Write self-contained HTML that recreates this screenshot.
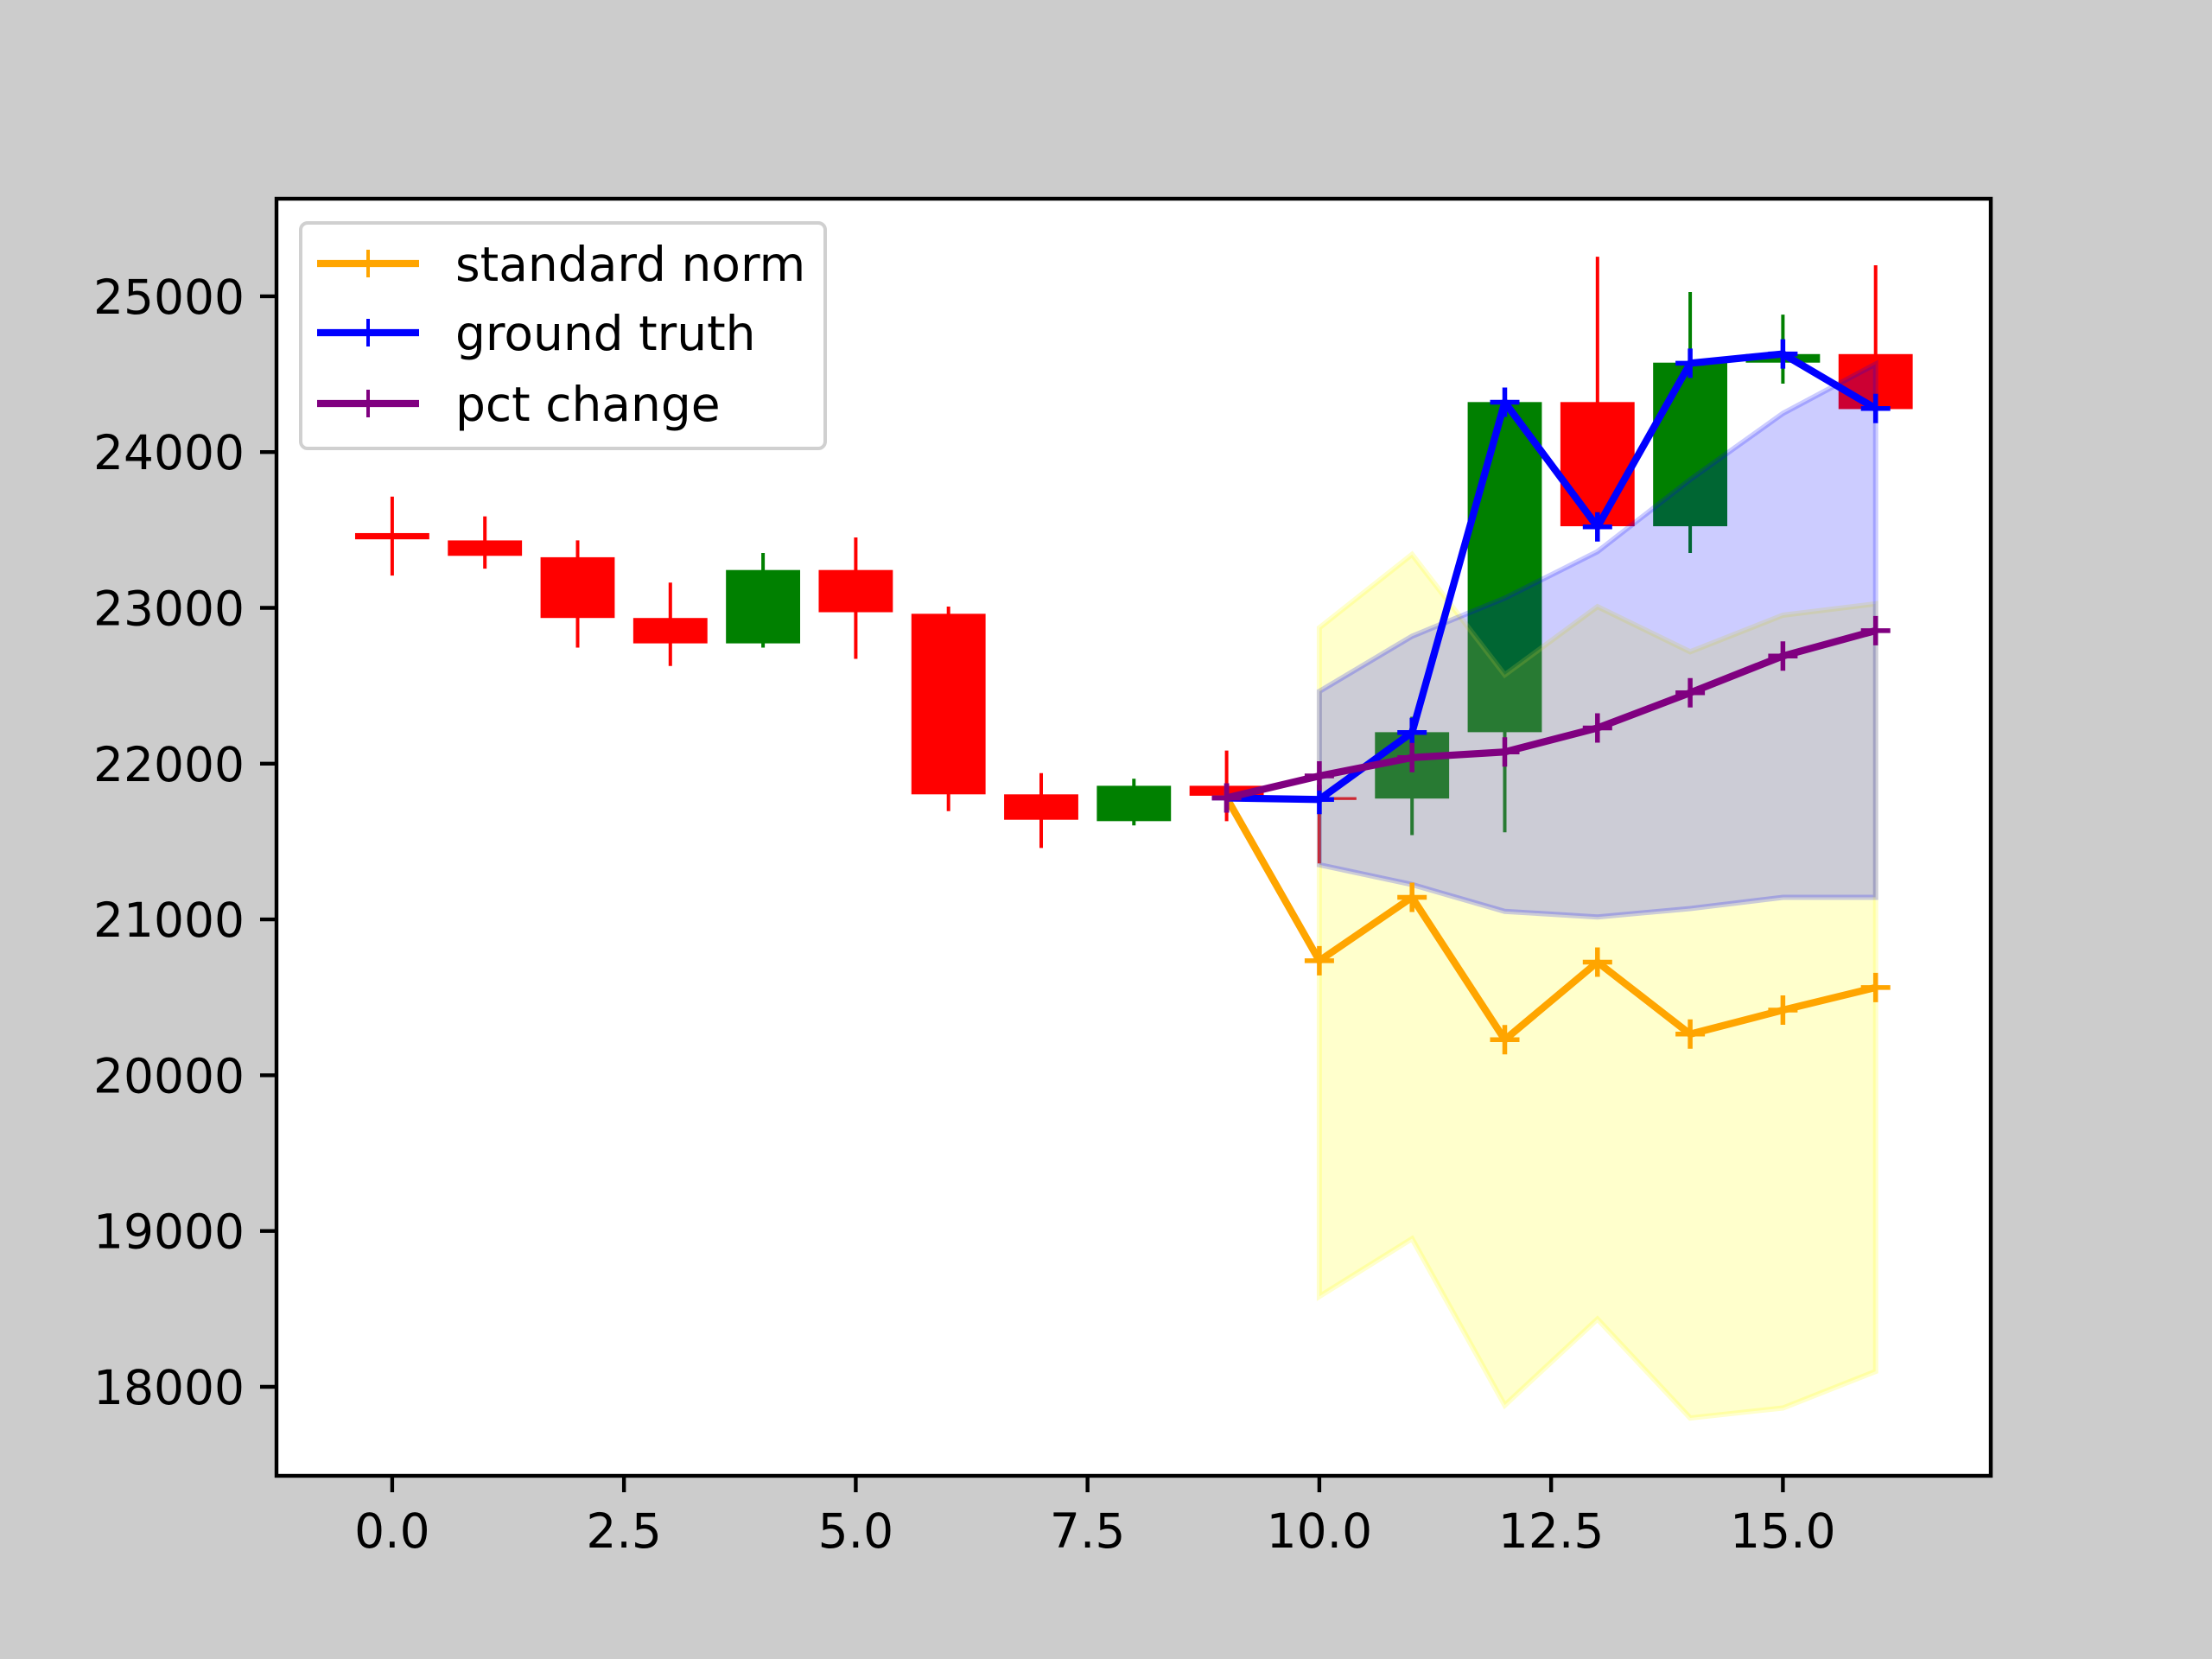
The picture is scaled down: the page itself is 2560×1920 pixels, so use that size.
<!DOCTYPE html>
<html><head><meta charset="utf-8"><style>
html,body{margin:0;padding:0;background:#cccccc;}
svg{display:block;font-family:"DejaVu Sans","Liberation Sans",sans-serif;}
</style></head><body>
<svg id="chart" width="2560" height="1920" viewBox="0 0 2560 1920" xmlns="http://www.w3.org/2000/svg">
<rect x="0" y="0" width="2560" height="1920" fill="#cccccc"/>
<rect x="320" y="230" width="1984" height="1478" fill="#ffffff"/>
<g id="marks"></g>
<rect x="320" y="230" width="1984" height="1478" fill="none" stroke="#000" stroke-width="4.4"/>
<g id="ticks"></g>
<g>
<rect x="348" y="258" width="607" height="261" rx="8" fill="#fff" fill-opacity="0.8" stroke="#d0d0d0" stroke-width="4"/>
<g>
<line x1="367" y1="305" x2="485" y2="305" stroke="orange" stroke-width="8.3"/><path d="M426 289V321M410 305H442" stroke="orange" stroke-width="4"/>
<text x="527" y="325" font-size="55" fill="#000">standard norm</text></g>
<g>
<line x1="367" y1="385" x2="485" y2="385" stroke="blue" stroke-width="8.3"/><path d="M426 369V401M410 385H442" stroke="blue" stroke-width="4"/>
<text x="527" y="405" font-size="55" fill="#000">ground truth</text></g>
<g>
<line x1="367" y1="467" x2="485" y2="467" stroke="purple" stroke-width="8.3"/><path d="M426 451V483M410 467H442" stroke="purple" stroke-width="4"/>
<text x="527" y="487" font-size="55" fill="#000">pct change</text></g>
</g>
</svg>
<script>
const candleOpen  = [23480,23433,23325,22935,22772,23243,22962,21803,21631,21858,21785,21776,22202,24321,23524,24574,24629];
const candleClose = [23440,23334,22935,22772,23243,22972,21803,21640,21858,21794,21767,22202,24321,23524,24574,24629,24276];
const candleHigh  = [23714,23587,23433,23162,23352,23452,23008,21939,21903,22084,21997,22301,24321,25254,25027,24882,25199];
const candleLow   = [23207,23252,22745,22627,22745,22673,21695,21459,21604,21631,21360,21541,21559,23524,23352,24439,24276];
const lineX       = [9,10,11,12,13,14,15,16];
const groundTruth = [21780,21770,22200,24320,23520,24570,24630,24280];
const standardNorm= [21780,20735,21142,20228,20726,20264,20418,20563];
const pctChange   = [21780,21921,22039,22075,22229,22455,22691,22854];
const bandX       = [10,11,12,13,14,15,16];
const stdUpper    = [22872,23343,22570,23008,22718,22953,23026];
const stdLower    = [18580,18951,17882,18435,17800,17864,18099];
const pctUpper    = [22464,22818,23062,23361,23823,24248,24565];
const pctLower    = [21351,21224,21052,21016,21070,21142,21142];
const xTicks = [0,2.5,5,7.5,10,12.5,15];
const xTickLabels = ["0.0","2.5","5.0","7.5","10.0","12.5","15.0"];
const yTicks = [18000,19000,20000,21000,22000,23000,24000,25000];
const yTickLabels = ["18000","19000","20000","21000","22000","23000","24000","25000"];

const NS="http://www.w3.org/2000/svg";
function X(v){return 453.9+v*107.3;}
function Y(v){return 342.9+(25000-v)*0.1803;}
const marks=document.getElementById('marks'), ticks=document.getElementById('ticks');
function mk(tag,attrs,parent){const e=document.createElementNS(NS,tag);for(const k in attrs)e.setAttribute(k,attrs[k]);parent.appendChild(e);return e;}

for(let i=0;i<candleOpen.length;i++){
  const up=candleClose[i]>=candleOpen[i];const col=up?'green':'red';
  const w=mk('line',{x1:X(i),x2:X(i),y1:Y(candleHigh[i]),y2:Y(candleLow[i]),stroke:col,'stroke-width':4},marks);
  
  
  const top=Math.max(candleOpen[i],candleClose[i]),bot=Math.min(candleOpen[i],candleClose[i]);
  const b=mk('rect',{x:X(i-0.4),y:Y(top),width:X(0.8)-X(0),height:Math.max(Y(bot)-Y(top),2),fill:col},marks);
  
  
}
function band(up,lo,fill,stroke,name){
  let d='M';bandX.forEach((x,i)=>{d+=(i?'L':'')+X(x)+' '+Y(up[i])+' ';});
  for(let i=bandX.length-1;i>=0;i--)d+='L'+X(bandX[i])+' '+Y(lo[i])+' ';
  const p=mk('path',{d:d+'Z',fill:fill,'fill-opacity':0.2,stroke:stroke,'stroke-opacity':0.2,'stroke-width':6},marks);
  
  
}
band(stdUpper,stdLower,'yellow','yellow','standard-norm-band');
band(pctUpper,pctLower,'blue','blue','pct-change-band');
function series(ys,col,name){
  const pts=lineX.map((x,i)=>X(x)+','+Y(ys[i])).join(' ');
  const l=mk('polyline',{points:pts,fill:'none',stroke:col,'stroke-width':8.3,'stroke-linejoin':'round'},marks);
  
  
  lineX.forEach((x,i)=>{
    const m=mk('path',{d:`M${X(x)} ${Y(ys[i])-17}V${Y(ys[i])+17}M${X(x)-17} ${Y(ys[i])}H${X(x)+17}`,stroke:col,'stroke-width':5.5},marks);
    
    
  });
}
series(standardNorm,'orange','standard-norm');
series(groundTruth,'blue','ground-truth');
series(pctChange,'purple','pct-change');

xTicks.forEach((v,i)=>{
  const t=mk('line',{x1:X(v),x2:X(v),y1:1708,y2:1727,stroke:'#000','stroke-width':4.4},ticks);
  
  
  const tx=mk('text',{x:X(v),y:1791,'font-size':55,'text-anchor':'middle',fill:'#000'},ticks);
  tx.textContent=xTickLabels[i];
  
  
});
yTicks.forEach((v,i)=>{
  const t=mk('line',{x1:301,x2:320,y1:Y(v),y2:Y(v),stroke:'#000','stroke-width':4.4},ticks);
  
  
  const tx=mk('text',{x:283,y:Y(v)+20,'font-size':55,'text-anchor':'end',fill:'#000'},ticks);
  tx.textContent=yTickLabels[i];
  
  
});
</script>
</body></html>
